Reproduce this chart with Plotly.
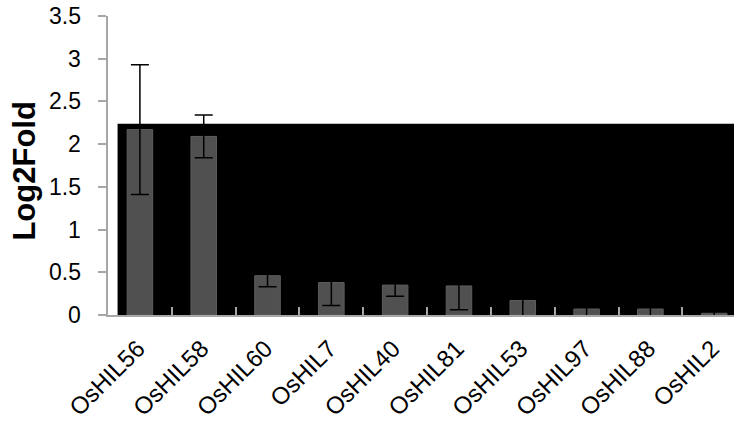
import plotly.graph_objects as go

# Expression data: log2 fold change per gene with error
genes = ["OsHIL56", "OsHIL58", "OsHIL60", "OsHIL7", "OsHIL40",
         "OsHIL81", "OsHIL53", "OsHIL97", "OsHIL88", "OsHIL2"]
log2fold = [2.17, 2.09, 0.46, 0.38, 0.35, 0.34, 0.17, 0.07, 0.07, 0.02]
errors = [0.76, 0.25, 0.13, 0.27, 0.13, 0.28, 0.20, 0.08, 0.08, 0.03]
y_ticks = [0, 0.5, 1, 1.5, 2, 2.5, 3, 3.5]

# Dark backdrop band behind the bars
band_top = 2.24

font_family = "Liberation Sans, Arial, sans-serif"
axis_grey = "#A6A6A6"
plot_left = 108
plot_width = 734 - plot_left

fig = go.Figure()
fig.add_trace(go.Bar(
    x=genes,
    y=log2fold,
    width=0.4,
    marker=dict(color="#505050", line=dict(color="#5E5E5E", width=1)),
    error_y=dict(type="data", array=errors, visible=True,
                 color="black", thickness=1.5, width=9),
))

fig.add_shape(type="rect", xref="x", yref="y",
              x0=-0.35, x1=9.5, y0=0, y1=band_top,
              fillcolor="black", line=dict(width=0), layer="below")

# y tick labels, set a little further from the axis than the default
for v in y_ticks:
    fig.add_annotation(text=f"{v:g}", xref="paper", yref="y",
                       x=-25 / plot_width, y=v, xanchor="right", yanchor="middle",
                       showarrow=False,
                       font=dict(size=23, family=font_family, color="black"))

# Vertical axis title
fig.add_annotation(text="<b>Log2Fold</b>", textangle=-90,
                   xref="paper", yref="paper", x=-0.134, y=0.48,
                   xanchor="center", yanchor="middle", showarrow=False,
                   font=dict(size=31, family=font_family, color="black"))

fig.update_layout(
    width=734, height=425,
    margin=dict(l=plot_left, r=0, t=16, b=110),
    paper_bgcolor="white", plot_bgcolor="white",
    font=dict(family=font_family, color="black", size=23),
    showlegend=False,
)
fig.update_xaxes(
    range=[-0.5, 9.31],
    showline=True, linecolor=axis_grey, linewidth=2,
    ticks="inside", tickson="boundaries", ticklen=8, tickcolor=axis_grey, tickwidth=1.5,
    tickangle=-45, tickfont=dict(size=24), showgrid=False,
    ticklabelstandoff=8, ticklabelshift=-2,
)
fig.update_yaxes(
    range=[0, 3.5], tickvals=y_ticks, showticklabels=False,
    showline=True, linecolor=axis_grey, linewidth=1.5,
    ticks="outside", ticklen=8, tickcolor=axis_grey, tickwidth=1.5,
    showgrid=False, zeroline=False,
)

fig.write_html("out.html")
